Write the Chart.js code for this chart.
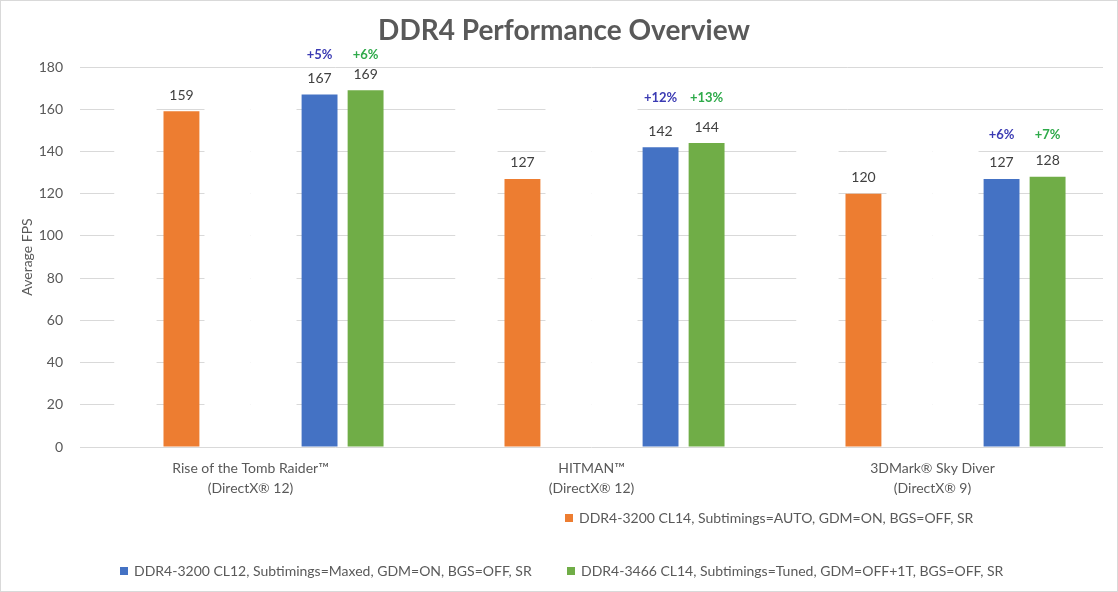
<!DOCTYPE html>
<html>
<head>
<meta charset="utf-8">
<script src="https://cdn.jsdelivr.net/npm/chart.js@4.4.1/dist/chart.umd.min.js"></script>
<style>
html,body{margin:0;padding:0;background:#fff;}
canvas{display:block;}
</style>
</head>
<body>
<canvas id="c" width="1118" height="592"></canvas>
<script>
const categories = [
  ["Rise of the Tomb Raider\u2122", "(DirectX\u00ae 12)"],
  ["HITMAN\u2122", "(DirectX\u00ae 12)"],
  ["3DMark\u00ae Sky Diver", "(DirectX\u00ae 9)"]
];
const seriesNames = [
  "DDR4-3200 CL14, Subtimings=AUTO, GDM=ON, BGS=OFF, SR",
  "DDR4-3200 CL12, Subtimings=Maxed, GDM=ON, BGS=OFF, SR",
  "DDR4-3466 CL14, Subtimings=Tuned, GDM=OFF+1T, BGS=OFF, SR"
];
const autoValues = [159, 127, 120];
const maxedValues = [167, 142, 127];
const tunedValues = [169, 144, 128];
// hidden (white) placeholder series visible only as gaps in the gridlines
const hiddenA = [170, 170, 150];
const hiddenB = [170, 170, 150];
const hiddenC = [170, 170, 150];
const maxedGain = ["+5%", "+12%", "+6%"];
const tunedGain = ["+6%", "+13%", "+7%"];
const yTicks = [0, 20, 40, 60, 80, 100, 120, 140, 160, 180];

const FONT = "Lato, 'Open Sans', sans-serif";
const GREY = "#595959";

const hiddenStyle = {backgroundColor: "#ffffff", borderWidth: 0, barPercentage: 1.0, isHidden: true};

const overlay = {
  id: "overlay",
  afterDatasetsDraw(chart, args, opts) {
    const ctx = chart.ctx;
    ctx.save();
    // value labels
    chart.data.datasets.forEach((ds, di) => {
      if (ds.isHidden) return;
      const meta = chart.getDatasetMeta(di);
      meta.data.forEach((bar, i) => {
        ctx.font = "14px " + FONT;
        ctx.fillStyle = "#404040";
        ctx.textAlign = "center";
        ctx.textBaseline = "middle";
        ctx.fillText(String(ds.data[i]), bar.x, bar.y - 16);
      });
    });
    // gain labels
    const mMeta = chart.getDatasetMeta(4);
    const tMeta = chart.getDatasetMeta(5);
    for (let i = 0; i < categories.length; i++) {
      const top = Math.min(mMeta.data[i].y, tMeta.data[i].y);
      const y = top - opts.pctOffsets[i];
      ctx.font = "bold 13px " + FONT;
      ctx.textAlign = "center";
      ctx.textBaseline = "middle";
      ctx.fillStyle = "#3B3BB3";
      ctx.fillText(maxedGain[i], mMeta.data[i].x, y);
      ctx.fillStyle = "#2EAA4A";
      ctx.fillText(tunedGain[i], tMeta.data[i].x, y);
    }
    ctx.restore();
  },
  afterDraw(chart) {
    const ctx = chart.ctx;
    ctx.save();
    // border
    ctx.strokeStyle = "#d9d9d9";
    ctx.lineWidth = 1;
    ctx.strokeRect(0.5, 0.5, chart.width - 1, chart.height - 1);
    // title
    ctx.font = "bold 28px " + FONT;
    ctx.fillStyle = GREY;
    ctx.textAlign = "center";
    ctx.textBaseline = "middle";
    ctx.fillText("DDR4 Performance Overview", 564, 31);
    // legend
    const entries = [
      {ds: 1, x: 565, y: 518},
      {ds: 4, x: 120, y: 571},
      {ds: 5, x: 567, y: 571}
    ];
    ctx.font = "14px " + FONT;
    ctx.textAlign = "left";
    entries.forEach(e => {
      const ds = chart.data.datasets[e.ds];
      ctx.fillStyle = ds.backgroundColor;
      ctx.fillRect(e.x, e.y - 4, 8, 8);
      ctx.fillStyle = GREY;
      ctx.fillText(ds.label, e.x + 14, e.y);
    });
    ctx.restore();
  }
};

new Chart(document.getElementById("c"), {
  type: "bar",
  data: {
    labels: categories,
    datasets: [
      Object.assign({label: "", data: hiddenA}, hiddenStyle, {barPercentage: 0.92}),
      {label: seriesNames[0], data: autoValues, backgroundColor: "#ED7D31", barPercentage: 0.78},
      Object.assign({label: "", data: hiddenB}, hiddenStyle),
      Object.assign({label: "", data: hiddenC}, hiddenStyle),
      {label: seriesNames[1], data: maxedValues, backgroundColor: "#4472C4", barPercentage: 0.78},
      {label: seriesNames[2], data: tunedValues, backgroundColor: "#70AD47", barPercentage: 0.78}
    ]
  },
  options: {
    responsive: false,
    animation: false,
    layout: {padding: {top: 67, right: 15, left: 0, bottom: 0}},
    datasets: {bar: {categoryPercentage: 0.81}},
    plugins: {
      legend: {display: false},
      title: {display: false},
      tooltip: {enabled: false},
      overlay: {pctOffsets: [35, 45, 42]}
    },
    scales: {
      x: {
        grid: {display: false},
        border: {display: false},
        ticks: {color: GREY, font: {family: FONT, size: 14, lineHeight: 20 / 14}, padding: 3, maxRotation: 0, autoSkip: false},
        afterFit(s) { s.height = 145; }
      },
      y: {
        min: 0, max: 180,
        afterBuildTicks(s) { s.ticks = yTicks.map(v => ({value: v})); },
        grid: {color: "#d9d9d9", lineWidth: 1, drawTicks: false},
        border: {display: false},
        ticks: {color: GREY, font: {family: FONT, size: 14}, padding: 17},
        title: {display: true, text: "Average FPS", color: GREY, font: {family: FONT, size: 14}, padding: {top: 19, bottom: 0}},
        afterFit(s) { s.width = 80; }
      }
    }
  },
  plugins: [overlay]
});
</script>
</body>
</html>
